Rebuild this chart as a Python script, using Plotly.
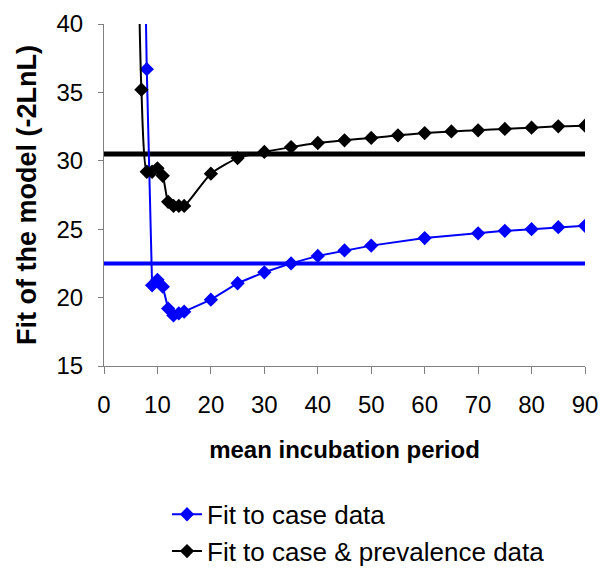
import plotly.graph_objects as go

# Data
x_case = [7, 8, 9, 10, 11, 12, 13, 14, 15, 20, 25, 30, 35, 40, 45, 50, 60, 70, 75, 80, 85, 90]
y_case = [60, 36.7, 20.9, 21.3, 20.8, 19.2, 18.7, 18.85, 18.97, 19.85, 21.05, 21.85, 22.5,
          23.05, 23.45, 23.8, 24.35, 24.7, 24.88, 25.0, 25.15, 25.25]

x_both = [6, 7, 8, 9, 10, 11, 12, 13, 14, 15, 20, 25, 30, 35, 40, 45, 50, 55, 60, 65, 70, 75, 80, 85, 90]
y_both = [54, 35.2, 29.2, 29.2, 29.45, 28.9, 27.0, 26.7, 26.7, 26.7, 29.06, 30.2, 30.65, 31.0,
          31.3, 31.5, 31.67, 31.86, 32.03, 32.15, 32.23, 32.33, 32.42, 32.52, 32.57]

x_ref = [0, 90]
y_ref_case = [22.5, 22.5]
y_ref_both = [30.5, 30.5]

x_ticks = [0, 10, 20, 30, 40, 50, 60, 70, 80, 90]
y_ticks = [15, 20, 25, 30, 35, 40]

FONT = "Liberation Sans, Arial, sans-serif"
BLUE = "#0000FF"
BLACK = "#000000"

fig = go.Figure()

fig.add_trace(go.Scatter(x=x_ref, y=y_ref_case, mode="lines",
                         line=dict(color=BLUE, width=4), showlegend=False, hoverinfo="skip"))
fig.add_trace(go.Scatter(x=x_ref, y=y_ref_both, mode="lines",
                         line=dict(color=BLACK, width=5), showlegend=False, hoverinfo="skip"))

fig.add_trace(go.Scatter(x=x_case, y=y_case, mode="lines+markers", name="Fit to case data",
                         line=dict(color=BLUE, width=2),
                         marker=dict(symbol="diamond", size=11, color=BLUE)))
fig.add_trace(go.Scatter(x=x_both, y=y_both, mode="lines+markers",
                         name="Fit to case & prevalence data",
                         line=dict(color=BLACK, width=2, shape="spline", smoothing=0.6),
                         marker=dict(symbol="diamond", size=11, color=BLACK)))

axis_common = dict(showgrid=False, zeroline=False, showline=True, linecolor="#808080",
                   linewidth=1, ticks="outside", tickcolor="#808080",
                   tickfont=dict(family=FONT, size=24, color="#000000"))

fig.update_xaxes(range=[0, 90], tickvals=x_ticks, ticklen=7, ticklabelstandoff=10,
                 **axis_common,
                 title=dict(text="<b>mean incubation period</b>",
                            font=dict(family=FONT, size=24, color="#000000"), standoff=24))
fig.update_yaxes(range=[15, 40], tickvals=y_ticks, ticklen=5, ticklabelstandoff=10,
                 **axis_common,
                 title=dict(text="<b>Fit of the model (-2LnL)</b>",
                            font=dict(family=FONT, size=27, color="#000000"), standoff=12))

fig.update_layout(
    width=602, height=561,
    margin=dict(l=96, r=25, t=16, b=203, autoexpand=False),
    plot_bgcolor="white", paper_bgcolor="white",
    font=dict(family=FONT),
    legend=dict(x=0.131, y=-0.365, xanchor="left", yanchor="top",
                font=dict(family=FONT, size=26, color="#000000"),
                bgcolor="rgba(0,0,0,0)", tracegroupgap=0),
)

fig.write_html("out.html")
